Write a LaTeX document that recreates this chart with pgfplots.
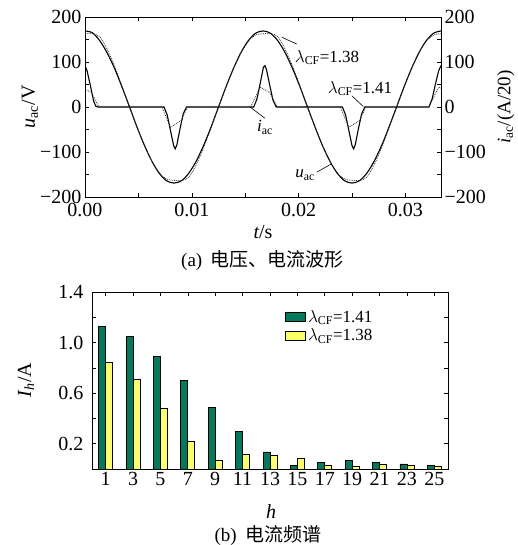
\documentclass[border=0pt]{standalone}
\usepackage{pgfplots}
\pgfplotsset{compat=1.18}
\usepackage{fontspec}
\setmainfont{Liberation Serif}
\newfontfamily\cjk{Noto Sans CJK SC}
\definecolor{bgreen}{RGB}{0,122,92}
\definecolor{byellow}{RGB}{255,255,102}
\newcommand{\fs}[1]{\fontsize{#1}{#1}\selectfont}
\begin{document}
\begin{tikzpicture}[x=1pt,y=1pt]
\path[use as bounding box] (0,0) rectangle (518,-545);
% ---------- top axis ----------
\begin{scope}[xshift=85pt, yshift=-197pt]
\begin{axis}[scale only axis,
  width=356pt, height=180pt,
  xmin=0, xmax=0.03333, ymin=-200, ymax=200,
  scaled x ticks=false,
  xtick={0,0.01,0.02,0.03}, xticklabels={0.00,0.01,0.02,0.03},
  minor xtick={0.005,0.015,0.025},
  ytick={-200,-100,0,100,200}, yticklabels={−200,−100,0,100,200},
  minor ytick={-150,-50,50,150},
  tick pos=both, yticklabel pos=left, xticklabel pos=lower, tick align=inside,
  major tick length=4pt, minor tick length=4pt,
  every tick/.style={black, line width=0.6pt},
  axis line style={line width=0.8pt},
  tick label style={font=\fs{20}},
  xticklabel style={yshift=-3pt},
  ylabel={$\mathit{u}_{\mathrm{ac}}$/V},
  ylabel style={at={(axis description cs:-0.155,0.5)}, anchor=center, font=\fs{20}},
]
\addplot[black, line width=1.1pt, smooth] coordinates {
(0,169)(0.00069,165)(0.00139,147)(0.00208,120)(0.00278,85)(0.00347,44)(0.00417,0)(0.00486,-44)(0.00556,-85)(0.00625,-120)(0.00694,-147)(0.00764,-164)(0.00833,-169)(0.00903,-164)(0.00972,-147)(0.01042,-120)(0.01111,-85)(0.01181,-44)(0.01250,0)(0.01319,44)(0.01389,85)(0.01458,120)(0.01528,147)(0.01597,164)(0.01667,169)(0.01736,164)(0.01806,147)(0.01875,120)(0.01944,85)(0.02014,44)(0.02083,0)(0.02153,-44)(0.02222,-85)(0.02292,-120)(0.02361,-147)(0.02431,-164)(0.02500,-169)(0.02569,-164)(0.02639,-147)(0.02708,-120)(0.02778,-85)(0.02847,-44)(0.02917,0)(0.02986,44)(0.03056,85)(0.03125,120)(0.03194,147)(0.03264,164)(0.03333,169)};
\addplot[black, line width=1.1pt] coordinates {
(0,92)(0.0002,80)(0.0005,48)(0.0008,14)(0.0010,2)(0.0012,0)(0.0074,0)(0.0077,-18)(0.0080,-52)(0.0083,-86)(0.00845,-93)(0.0086,-84)(0.0089,-48)(0.0092,-15)(0.0095,0)(0.0158,0)(0.0161,18)(0.0164,52)(0.0167,88)(0.01685,92)(0.0170,82)(0.0173,48)(0.0176,15)(0.0179,0)(0.0241,0)(0.0244,-18)(0.0247,-52)(0.0250,-86)(0.02515,-93)(0.0253,-84)(0.0256,-48)(0.0259,-15)(0.0262,0)(0.0322,0)(0.0325,18)(0.0328,50)(0.0331,80)(0.03333,92)};
\addplot[black!80, densely dotted, line width=0.8pt, smooth] coordinates {
(0,163)(0.00069,163)(0.00139,156)(0.00208,128)(0.00278,90)(0.00347,46)(0.00417,0)(0.00486,-44)(0.00556,-85)(0.00625,-120)(0.00694,-146)(0.00764,-160)(0.00833,-163)(0.00903,-163)(0.00972,-156)(0.01042,-128)(0.01111,-90)(0.01181,-46)(0.01250,0)(0.01319,44)(0.01389,85)(0.01458,120)(0.01528,146)(0.01597,160)(0.01667,163)(0.01736,163)(0.01806,156)(0.01875,128)(0.01944,90)(0.02014,46)(0.02083,0)(0.02153,-44)(0.02222,-85)(0.02292,-120)(0.02361,-146)(0.02431,-160)(0.02500,-163)(0.02569,-163)(0.02639,-156)(0.02708,-128)(0.02778,-90)(0.02847,-46)(0.02917,0)(0.02986,44)(0.03056,85)(0.03125,120)(0.03194,146)(0.03264,160)(0.03333,163)};
\addplot[black!80, densely dotted, line width=0.8pt] coordinates {
(0,40)(0.0006,32)(0.0013,0)(0.0072,0)(0.0080,-45)(0.0090,-30)(0.0096,0)(0.0155,0)(0.0164,44)(0.0173,32)(0.0180,0)(0.0239,0)(0.0247,-45)(0.0257,-30)(0.0263,0)(0.0322,0)(0.0331,44)(0.03333,42)};
% annotations
\node[font=\fs{17}] at (axis cs:0.02266,110) {$\lambda_{\mathrm{CF}}$=1.38};
\draw[line width=0.6pt] (axis cs:0.01982,140) -- (axis cs:0.01842,155);
\node[font=\fs{17}] at (axis cs:0.02575,41) {$\lambda_{\mathrm{CF}}$=1.41};
\draw[line width=0.6pt] (axis cs:0.02497,25) -- (axis cs:0.02606,1);
\node[font=\fs{17}] at (axis cs:0.01685,-45) {$\mathit{i}_{\mathrm{ac}}$};
\draw[line width=0.6pt] (axis cs:0.01685,-25) -- (axis cs:0.01545,0);
\node[font=\fs{17}] at (axis cs:0.0206,-152) {$\mathit{u}_{\mathrm{ac}}$};
\draw[line width=0.6pt] (axis cs:0.02169,-145) -- (axis cs:0.0231,-126);
\end{axis}
% right labels of top axis
\begin{axis}[scale only axis,
  width=356pt, height=180pt,
  xmin=0, xmax=0.03333, ymin=-200, ymax=200,
  axis x line=none, axis y line*=right,
  ytick={-200,-100,0,100,200}, yticklabels={−200,−100,0,100,200},
  major tick length=0pt,
  axis line style={line width=0.8pt},
  tick label style={font=\fs{20}},
  ylabel={$\mathit{i}_{\mathrm{ac}}$/(A/20)},
  ylabel style={at={(axis description cs:1.182,0.5)}, anchor=center, font=\fs{19}},
]
\addplot[draw=none] coordinates {(0,0)};
\end{axis}
\end{scope}
\node[font=\fs{20}] at (263,-232) {$\mathit{t}$/s};
\node[font=\fs{19}] at (262.5,-261) {(a)\hspace{0.45em}{\cjk 电压、电流波形}};
% ---------- bottom axis ----------
\begin{scope}[xshift=92pt, yshift=-469pt]
\begin{axis}[scale only axis,
  width=356pt, height=177pt,
  xmin=0, xmax=26, ymin=0, ymax=1.4,
  ybar=0pt, bar width=7pt,
  xtick={1,3,5,7,9,11,13,15,17,19,21,23,25},
  xticklabels={1,3,5,7,9,11,13,15,17,19,21,23,25},
  ytick={0.2,0.6,1.0,1.4}, yticklabels={0.2,0.6,1.0,1.4},
  minor ytick={0.4,0.8,1.2},
  tick pos=both, yticklabel pos=left, xticklabel pos=lower, tick align=inside,
  major tick length=4pt, minor tick length=4pt,
  every tick/.style={black, line width=0.6pt},
  axis line style={line width=0.8pt},
  tick label style={font=\fs{20}},
  yticklabel style={xshift=-5pt},
  legend style={at={(axis description cs:0.534,0.92)}, anchor=north west,
    draw=none, fill=none, font=\fs{17}, row sep=1pt,
    nodes={inner sep=2pt, anchor=west}},
  legend image code/.code={\draw[#1] (0pt,-4.5pt) rectangle (20pt,4.5pt);},
]
\addplot[fill=bgreen, draw=black, line width=0.8pt] coordinates {
(1,1.13)(3,1.05)(5,0.89)(7,0.70)(9,0.49)(11,0.30)(13,0.135)(15,0.025)(17,0.05)(19,0.065)(21,0.055)(23,0.04)(25,0.03)};
\addplot[fill=byellow, draw=black, line width=0.8pt] coordinates {
(1,0.84)(3,0.71)(5,0.48)(7,0.22)(9,0.065)(11,0.115)(13,0.11)(15,0.085)(17,0.03)(19,0.02)(21,0.035)(23,0.028)(25,0.022)};
\legend{$\lambda_{\mathrm{CF}}$=1.41, $\lambda_{\mathrm{CF}}$=1.38}
\end{axis}
\end{scope}
\node[font=\fs{20}, rotate=90] at (26,-380) {$\mathit{I}_{\mathit{h}}$/A};
\node[font=\fs{20}] at (271,-512) {$\mathit{h}$};
\node[font=\fs{19}] at (268,-536) {(b)\hspace{0.45em}{\cjk 电流频谱}};
\end{tikzpicture}
\end{document}
